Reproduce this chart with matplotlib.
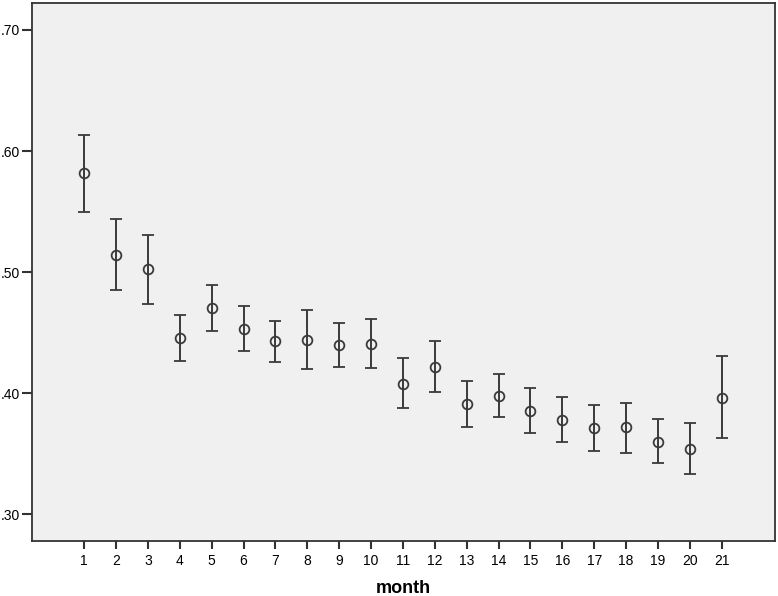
import numpy as np
import matplotlib
matplotlib.use("Agg")
import matplotlib.pyplot as plt

plt.rcParams["font.family"] = ["Liberation Sans", "DejaVu Sans"]

# mean and 95% CI bounds per month
months = list(range(1, 22))
means = [0.582, 0.514, 0.503, 0.446, 0.470, 0.453, 0.443, 0.444, 0.440, 0.441,
         0.408, 0.422, 0.391, 0.398, 0.385, 0.378, 0.371, 0.372, 0.360, 0.354, 0.396]
upper = [0.613, 0.544, 0.531, 0.465, 0.489, 0.472, 0.460, 0.469, 0.458, 0.461,
         0.429, 0.443, 0.410, 0.416, 0.404, 0.397, 0.390, 0.392, 0.379, 0.375, 0.431]
lower = [0.550, 0.485, 0.474, 0.427, 0.451, 0.435, 0.426, 0.420, 0.422, 0.421,
         0.388, 0.401, 0.372, 0.380, 0.367, 0.360, 0.352, 0.351, 0.342, 0.333, 0.363]
yticks = [0.30, 0.40, 0.50, 0.60, 0.70]
ylabels = [".30", ".40", ".50", ".60", ".70"]

means = np.array(means)
err = [means - np.array(lower), np.array(upper) - means]

fig = plt.figure(figsize=(7.78, 5.96), dpi=100)
ax = fig.add_axes([0.0415, 0.0928, 0.9546, 0.9022])
ax.set_facecolor("#f0f0f0")

line_col = "#3a3a3a"
ax.errorbar(months, means, yerr=err, fmt="o", color=line_col, ecolor=line_col,
            elinewidth=1.4, capsize=4, capthick=1.4, markersize=7,
            markerfacecolor="none", markeredgewidth=1.3)

ax.set_xlim(-0.63, 22.67)
ax.set_ylim(0.2782, 0.7223)
ax.set_xticks(months)
ax.set_xticklabels([str(m) for m in months])
ax.set_yticks(yticks)
ax.set_yticklabels(ylabels)

for s in ax.spines.values():
    s.set_color("#333333")
    s.set_linewidth(1.3)

ax.tick_params(axis="x", direction="out", length=6, width=1.5, color="#333333",
               labelsize=10, pad=3.5)
ax.tick_params(axis="y", direction="out", length=7, width=1.5, color="#333333",
               labelsize=10, pad=2)

ax.set_xlabel("month", fontsize=13, fontweight="bold", labelpad=9)

fig.savefig("out.png", dpi=100)
